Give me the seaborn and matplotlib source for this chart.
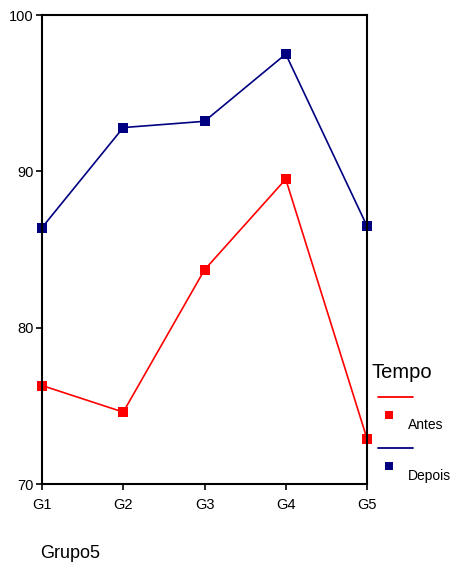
import pandas as pd
import matplotlib.pyplot as plt
import seaborn as sns
from matplotlib.lines import Line2D
from matplotlib.legend_handler import HandlerBase

# Data
grupos = ["G1", "G2", "G3", "G4", "G5"]
antes = [76.3, 74.6, 83.7, 89.5, 72.9]
depois = [86.4, 92.8, 93.2, 97.5, 86.5]
y_ticks = [70, 80, 90, 100]

df = pd.DataFrame({
    "Grupo5": grupos * 2,
    "valor": antes + depois,
    "Tempo": ["Antes"] * len(grupos) + ["Depois"] * len(grupos),
})
palette = {"Antes": "#ff0000", "Depois": "#000080"}

sns.set_style("white")
plt.rcParams["font.family"] = ["Liberation Sans", "DejaVu Sans"]
plt.rcParams["text.color"] = "black"
plt.rcParams["axes.labelcolor"] = "black"

fig = plt.figure(figsize=(4.51, 5.64), dpi=100)
ax = fig.add_axes([42 / 451, 1 - 484 / 564, (367 - 42) / 451, (484 - 15) / 564])

sns.lineplot(data=df, x="Grupo5", y="valor", hue="Tempo", palette=palette,
             marker="s", markersize=6.5, markeredgewidth=0, linewidth=1.2,
             legend=False, ax=ax, clip_on=False)

ax.set_xlim(0, len(grupos) - 1)
ax.set_ylim(70, 100)
ax.set_yticks(y_ticks)
ax.set_xticks(range(len(grupos)))
ax.set_xticklabels(grupos)
ax.tick_params(axis="both", which="major", direction="out", length=4, width=1.2,
               labelsize=10.5, left=True, bottom=True, colors="black")
ax.tick_params(axis="x", pad=6)
ax.tick_params(axis="y", pad=2)
for s in ax.spines.values():
    s.set_color("black")
    s.set_linewidth(1.5)
ax.set_ylabel("")
ax.set_xlabel("Grupo5", fontsize=13, ha="left", va="center")
ax.xaxis.set_label_coords(-0.005, -(553 - 484) / 469)


class StackedHandler(HandlerBase):
    # line on top, square marker below it, label further down-right
    def create_artists(self, legend, orig_handle, xdescent, ydescent,
                       width, height, fontsize, trans):
        c = orig_handle.get_color()
        x0 = -xdescent + 4.3
        line = Line2D([x0, x0 + width], [2.3 * fontsize] * 2,
                      color=c, lw=1.3, transform=trans)
        mk = Line2D([x0 + 0.31 * width], [1.0 * fontsize], marker="s",
                    ms=5.8, mew=0, color=c, ls="none", transform=trans)
        return [line, mk]


handles = [Line2D([], [], color=palette[k]) for k in ["Antes", "Depois"]]
leg = fig.legend(handles, ["Antes", "Depois"], title="Tempo",
                 loc="upper left", bbox_to_anchor=(372 / 451, 1 - 363 / 564),
                 frameon=False, fontsize=10, title_fontsize=14.5,
                 handler_map={Line2D: StackedHandler()},
                 handlelength=2.5, handleheight=1.5, handletextpad=0.1,
                 labelspacing=2.45, borderpad=0, borderaxespad=0,
                 alignment="left")

fig.savefig("out.png", dpi=100)
